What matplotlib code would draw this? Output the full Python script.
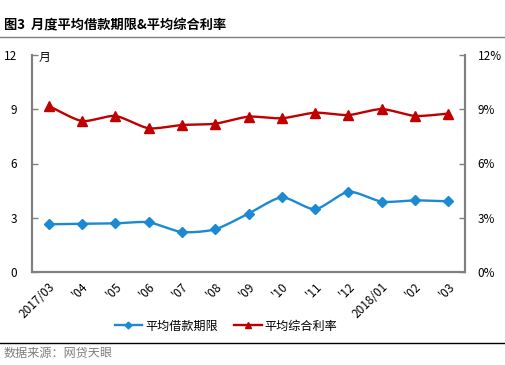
import numpy as np
import matplotlib
matplotlib.use("Agg")
import matplotlib.pyplot as plt
from matplotlib.lines import Line2D

plt.rcParams['font.family'] = ['Noto Sans CJK SC', 'DejaVu Sans']

categories = ["2017/03", "'04", "'05", "'06", "'07", "'08", "'09", "'10", "'11", "'12", "2018/01", "'02", "'03"]
term_months = [2.64, 2.67, 2.69, 2.75, 2.21, 2.36, 3.23, 4.13, 3.47, 4.44, 3.89, 3.96, 3.91]
rate_pct = [9.18, 8.35, 8.63, 7.95, 8.13, 8.20, 8.59, 8.50, 8.81, 8.68, 9.01, 8.63, 8.76]
left_ticks = [0, 3, 6, 9, 12]
right_ticks = [0, 3, 6, 9, 12]

BLUE = "#1B8AD3"
RED = "#C00000"
SPINE = "#808080"


def smooth(x, y, n=20):
    x = np.asarray(x, float); y = np.asarray(y, float)
    px = np.concatenate([[2 * x[0] - x[1]], x, [2 * x[-1] - x[-2]]])
    py = np.concatenate([[2 * y[0] - y[1]], y, [2 * y[-1] - y[-2]]])
    xs, ys = [], []
    t = np.linspace(0, 1, n, endpoint=False)
    for i in range(1, len(px) - 2):
        for arr, out in ((px, xs), (py, ys)):
            p0, p1, p2, p3 = arr[i - 1], arr[i], arr[i + 1], arr[i + 2]
            m1 = (p2 - p0) / 2 * 0.7
            m2 = (p3 - p1) / 2 * 0.7
            h00 = 2 * t**3 - 3 * t**2 + 1
            h10 = t**3 - 2 * t**2 + t
            h01 = -2 * t**3 + 3 * t**2
            h11 = t**3 - t**2
            out.extend(h00 * p1 + h10 * m1 + h01 * p2 + h11 * m2)
    xs.append(x[-1]); ys.append(y[-1])
    return np.array(xs), np.array(ys)


fig = plt.figure(figsize=(5.05, 3.65), dpi=100)
ax = fig.add_axes([32 / 505, 1 - 272 / 365, (465 - 32) / 505, (272 - 55) / 365])
ax2 = ax.twinx()

x = np.arange(len(categories))
sx, sy = smooth(x, term_months)
ax.plot(sx, sy, color=BLUE, lw=1.7, zorder=3)
ax.plot(x, term_months, ls='none', marker='D', ms=5, color=BLUE, zorder=4)
rx, ry = smooth(x, rate_pct)
ax2.plot(rx, ry, color=RED, lw=1.7, zorder=3)
ax2.plot(x, rate_pct, ls='none', marker='^', ms=7, color=RED, zorder=4)

ax.set_xlim(-0.5, len(categories) - 0.5)
ax.set_ylim(0, 12)
ax2.set_ylim(0, 12)
ax.set_yticks(left_ticks)
ax.set_yticklabels([str(v) for v in left_ticks], fontsize=8.5)
ax2.set_yticks(right_ticks)
ax2.set_yticklabels([f"{v}%" for v in right_ticks], fontsize=8.5)
ax.set_xticks(x)
ax.set_xticklabels(categories, rotation=45, ha='right', rotation_mode='anchor', fontsize=8.5)
ax.tick_params(axis='x', length=0, pad=6)
ax.tick_params(axis='y', direction='in', length=4, width=1, color=SPINE, pad=11)
ax2.tick_params(axis='y', direction='in', length=4, width=1, color=SPINE, pad=9)
for a in (ax, ax2):
    a.spines['top'].set_visible(False)
    for s in ('left', 'right', 'bottom'):
        a.spines[s].set_color(SPINE)
        a.spines[s].set_linewidth(1.5)
for lab in ax.get_yticklabels():
    lab.set_horizontalalignment('right')

ax.text(39 / 505, 1 - 57 / 365, "月", transform=fig.transFigure, fontsize=8.5, va='center', ha='left')

handles = [Line2D([], [], color=BLUE, lw=1.7, marker='D', ms=3.5),
           Line2D([], [], color=RED, lw=1.7, marker='^', ms=5)]
fig.legend(handles, ["平均借款期限", "平均综合利率"], loc='center', bbox_to_anchor=(226 / 505, 1 - 326 / 365),
           ncol=2, frameon=False, fontsize=8.7, handlelength=2.3, columnspacing=1.3, handletextpad=0.25)

fig.text(4 / 505, 1 - 25 / 365, "图3  月度平均借款期限&平均综合利率", fontsize=9.5, fontweight='bold', va='center', ha='left')
fig.add_artist(Line2D([0, 1], [1 - 37 / 365, 1 - 37 / 365], transform=fig.transFigure, color="#7f7f7f", lw=1))
fig.add_artist(Line2D([0, 1], [1 - 343 / 365, 1 - 343 / 365], transform=fig.transFigure, color="#000000", lw=1))
fig.text(4 / 505, 1 - 353 / 365, "数据来源：网贷天眼", fontsize=8.7, color="#7f7f7f", va='center', ha='left')

fig.savefig("out.png", dpi=100)
